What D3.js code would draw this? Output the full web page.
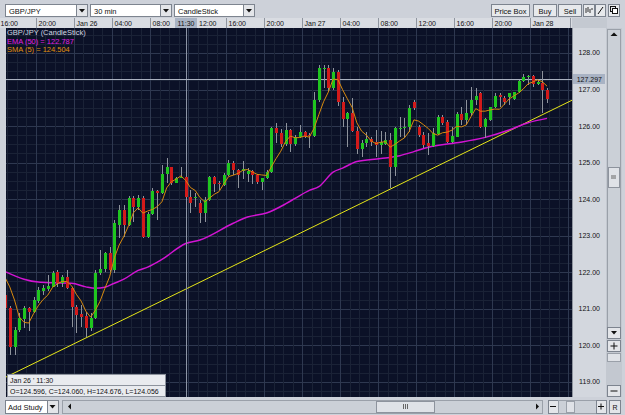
<!DOCTYPE html>
<meta charset="utf-8">
<style>
    body { margin: 0; background: #cdd1d9; }
    svg text { font-family: "Liberation Sans", Arial, sans-serif; }
</style>
<svg width="625" height="415"></svg>
<script src="https://d3js.org/d3.v7.min.js"></script>
<script>

    // GBP/JPY 30 min candles, first candle = Jan 25 16:30
    var opens = [121.38, 121.01, 119.96, 120.42, 120.71, 121.01, 120.92, 121.22, 121.49, 121.53,
        121.60, 122.01, 121.71, 121.86, 121.56, 121.04, 120.85, 120.80, 120.47, 120.74,
        121.97, 122.08, 122.52, 122.06, 123.29, 123.70, 123.29, 124.02, 123.78, 124.02,
        122.97, 123.59, 124.23, 124.16, 124.68, 124.87, 124.45, 124.57, 124.596, 124.05,
        124.03, 123.90, 123.61, 123.99, 124.60, 124.43, 124.39, 124.66, 125.00, 124.80,
        124.78, 124.69, 124.76, 124.66, 124.48, 124.57, 124.75, 125.94, 125.80, 125.50,
        125.89, 125.50, 125.71, 125.83, 125.75, 125.74, 126.71, 127.56, 127.60, 127.03,
        127.49, 126.67, 126.19, 126.35, 125.86, 125.37, 125.53, 125.65, 125.56, 125.48,
        125.50, 125.62, 124.89, 125.94, 125.96, 125.97, 126.67, 125.98, 125.76, 125.53,
        125.46, 125.78, 126.26, 126.12, 125.57, 125.71, 126.32, 126.17, 126.35, 126.71,
        126.90, 125.98, 126.17, 126.51, 126.84, 126.78, 126.79, 126.73, 126.92, 127.24,
        127.33, 127.37, 127.15, 127.19, 126.99];
    var highs = [121.43, 121.08, 120.51, 120.88, 121.08, 121.06, 121.31, 121.59, 121.65, 121.92,
        122.04, 122.06, 121.92, 122.06, 121.60, 121.10, 121.10, 120.92, 120.88, 122.06,
        122.61, 122.56, 122.70, 123.43, 123.84, 123.84, 124.09, 124.09, 124.11, 124.09,
        123.65, 124.30, 124.25, 124.93, 125.12, 124.89, 124.61, 124.89, 124.676, 124.25,
        124.16, 123.98, 124.05, 124.63, 124.63, 124.51, 124.71, 125.07, 125.05, 124.82,
        125.05, 124.84, 124.80, 124.69, 124.59, 124.80, 125.98, 126.07, 125.92, 126.07,
        125.92, 125.76, 126.03, 125.86, 125.82, 126.94, 127.67, 127.67, 127.67, 127.58,
        127.53, 126.80, 126.39, 126.78, 125.98, 125.62, 125.83, 125.70, 125.89, 125.86,
        125.83, 125.80, 125.98, 126.26, 126.21, 126.58, 126.71, 126.03, 125.85, 125.80,
        125.95, 126.30, 126.30, 126.17, 125.98, 126.39, 126.53, 126.71, 127.08, 127.04,
        126.94, 126.21, 126.53, 126.90, 126.90, 126.82, 126.91, 126.94, 127.26, 127.42,
        127.40, 127.40, 127.26, 127.51, 127.03];
    var lows = [120.97, 119.74, 119.74, 120.37, 120.47, 120.39, 120.88, 121.15, 121.38, 121.49,
        121.59, 121.60, 121.59, 121.53, 120.51, 120.33, 120.51, 120.24, 120.40, 120.71,
        121.92, 122.02, 122.02, 121.97, 122.93, 122.97, 123.27, 123.37, 123.70, 122.94,
        122.93, 123.57, 123.43, 124.14, 124.43, 124.39, 124.43, 124.57, 124.056, 123.61,
        123.78, 123.34, 123.38, 123.96, 124.20, 124.25, 124.36, 124.63, 124.66, 124.30,
        124.54, 124.48, 124.41, 124.41, 124.25, 124.54, 124.72, 125.53, 125.43, 125.46,
        125.28, 125.46, 125.68, 125.68, 125.41, 125.71, 126.67, 127.03, 126.94, 126.99,
        126.56, 125.98, 125.44, 125.83, 125.23, 125.16, 125.44, 125.46, 125.16, 125.23,
        125.48, 124.31, 124.64, 125.71, 125.68, 125.85, 126.44, 125.70, 125.39, 125.21,
        125.43, 125.76, 126.03, 125.54, 125.54, 125.69, 126.03, 126.03, 126.27, 126.58,
        125.94, 125.67, 126.14, 126.49, 126.53, 126.58, 126.58, 126.71, 126.90, 127.21,
        127.12, 127.08, 127.12, 126.35, 126.62];
    var closes = [121.02, 119.96, 120.42, 120.74, 121.01, 120.92, 121.24, 121.51, 121.58, 121.62,
        121.99, 121.70, 121.86, 121.56, 121.04, 120.83, 120.78, 120.47, 120.74, 121.97,
        122.09, 122.52, 122.06, 123.34, 123.70, 123.29, 124.02, 123.78, 124.02, 122.97,
        123.59, 124.23, 124.16, 124.69, 124.87, 124.45, 124.57, 124.61, 124.060, 123.90,
        124.05, 123.61, 123.99, 124.60, 124.41, 124.41, 124.66, 125.00, 124.80, 124.66,
        124.82, 124.78, 124.66, 124.48, 124.57, 124.75, 125.94, 125.80, 125.50, 125.89,
        125.50, 125.71, 125.83, 125.71, 125.73, 126.71, 127.58, 127.60, 127.03, 127.49,
        126.67, 126.19, 126.35, 125.86, 125.37, 125.53, 125.65, 125.56, 125.48, 125.56,
        125.62, 124.89, 125.94, 125.96, 125.97, 126.49, 126.49, 125.76, 125.48, 125.46,
        125.80, 126.26, 126.08, 125.57, 125.73, 126.33, 126.17, 126.35, 126.71, 126.82,
        125.98, 126.18, 126.51, 126.83, 126.79, 126.67, 126.90, 126.92, 127.24, 127.35,
        127.37, 127.15, 127.21, 126.99, 126.73];

    // EMA(50): candle index -> value
    var emaIdx = [0, 4, 7, 10, 14, 17, 19, 21, 23, 25, 28, 30, 33, 38, 41, 48, 51, 55, 59, 61,
        64, 66, 69, 71, 74, 79, 83, 86, 89, 95, 101, 106, 110, 114];
    var emaVal = [122.02, 121.81, 121.73, 121.71, 121.70, 121.60, 121.56, 121.59, 121.70, 121.81,
        122.05, 122.14, 122.35, 122.787, 122.88, 123.34, 123.51, 123.62, 123.87, 124.02,
        124.24, 124.34, 124.74, 124.85, 125.03, 125.11, 125.19, 125.30, 125.42, 125.54,
        125.69, 125.89, 126.09, 126.21];
    // SMA(5) values of the first 4 candles (need closes from before the window)
    var smaLead = [121.86, 121.60, 121.24, 120.78];

    // yellow trend line, two anchor points (candle index, price)
    var trendIdx = [0, 119.3];
    var trendVal = [119.12, 126.71];

    var timeLabels = ["16:00", "20:00", "Jan 26", "04:00", "08:00", "12:00", "16:00", "20:00",
        "Jan 27", "04:00", "08:00", "12:00", "16:00", "20:00", "Jan 28"];
    var timeLabelIdx = [-1, 7, 15, 23, 31, 39, 47, 55, 63, 71, 79, 87, 95, 103, 111];
    var priceTicks = [119, 120, 121, 122, 123, 124, 125, 126, 127, 128];

    var crossIdx = 38, crossPrice = 127.297;

    var svg = d3.select("svg"),
        width = +svg.attr("width"),
        height = +svg.attr("height");

    var plot = {left: 6, right: 572, top: 28, bottom: 397};

    var x = d3.scaleLinear().domain([0, 114]).range([5, 5 + 114 * 4.755]);
    var y = d3.scaleLinear().domain([127, 120]).range([89.5, 89.5 + 7 * 36.55]);

    var candles = opens.map(function(o, i) {
        return {i: i, o: o, h: highs[i], l: lows[i], c: closes[i]};
    });

    // ---------- window chrome ----------
    svg.append("rect").attr("width", width).attr("height", height).attr("fill", "#cdd1d9");

    function box(g, x0, y0, w, h, fill, stroke) {
        return g.append("rect").attr("x", x0 + 0.5).attr("y", y0 + 0.5)
            .attr("width", w).attr("height", h)
            .attr("fill", fill).attr("stroke", stroke || "#7d848f");
    }

    function arrowDown(g, cx, cy) {
        g.append("path").attr("d", "M" + (cx - 3) + "," + (cy - 1.5) + "h6l-3,3.5z").attr("fill", "#111");
    }

    var bar = svg.append("g");
    [[5, 82, "GBP/JPY"], [90, 81, "30 min"], [174, 80, "CandleStick"]].forEach(function(d) {
        box(bar, d[0], 4, d[1], 12, "#fff");
        box(bar, d[0] + d[1] - 11, 4, 11, 12, "#e3e5e9");
        arrowDown(bar, d[0] + d[1] - 5, 10.5);
        bar.append("text").attr("x", d[0] + 4).attr("y", 13.5).attr("font-size", 7.5)
            .attr("fill", "#111").text(d[2]);
    });
    [[491, 38, "Price Box"], [533, 23, "Buy"], [558, 23, "Sell"]].forEach(function(d) {
        box(bar, d[0], 4, d[1], 12, "#e7e9ec");
        bar.append("text").attr("x", d[0] + d[1] / 2 + 0.5).attr("y", 13.5).attr("font-size", 7.5)
            .attr("text-anchor", "middle").attr("fill", "#111").text(d[2]);
    });
    box(bar, 583, 4, 11, 12, "#e7e9ec");
    bar.append("path").attr("d", "M586,8v5M588,7v5M590,9v4M592,8v2").attr("stroke", "#333").attr("fill", "none");
    box(bar, 595, 4, 10, 12, "#e7e9ec");
    bar.append("path").attr("d", "M598,14L603,7").attr("stroke", "#111");
    box(bar, 608, 4, 11, 12, "#e7e9ec");
    bar.append("rect").attr("x", 610.5).attr("y", 6.5).attr("width", 5).attr("height", 5).attr("fill", "none").attr("stroke", "#111");
    bar.append("rect").attr("x", 612.5).attr("y", 8.5).attr("width", 5).attr("height", 5).attr("fill", "#fff").attr("stroke", "#111");

    // time axis strip
    var tax = svg.append("g");
    var cx0 = Math.round(x(crossIdx));
    tax.append("rect").attr("x", 0).attr("y", 18).attr("width", 572).attr("height", 10).attr("fill", "#d9dce2");
    tax.append("rect").attr("x", 572).attr("y", 18).attr("width", 35).attr("height", 10).attr("fill", "#c4c9d1");
    timeLabels.forEach(function(t, k) {
        var sx = Math.round(x(timeLabelIdx[k] - 0.5));
        tax.append("line").attr("x1", sx + 0.5).attr("x2", sx + 0.5).attr("y1", 18).attr("y2", 28)
            .attr("stroke", "#8f959f");
        // the label under the crosshair time box is pushed past it
        var tx = timeLabelIdx[k] === crossIdx + 1 ? cx0 + 13 : sx + 2.5;
        tax.append("text").attr("x", tx).attr("y", 26).attr("font-size", 7)
            .attr("fill", "#111").text(t);
    });
    tax.append("line").attr("x1", 570.5).attr("x2", 570.5).attr("y1", 18).attr("y2", 28).attr("stroke", "#8f959f");
    // highlighted crosshair time
    tax.append("rect").attr("x", cx0 - 11).attr("y", 18).attr("width", 22).attr("height", 10).attr("fill", "#a9b3c4");
    tax.append("text").attr("x", cx0).attr("y", 26).attr("font-size", 7).attr("text-anchor", "middle")
        .attr("fill", "#111").text("11:30");

    // ---------- plot area ----------
    svg.append("clipPath").attr("id", "clip").append("rect")
        .attr("x", plot.left).attr("y", plot.top)
        .attr("width", plot.right - plot.left).attr("height", plot.bottom - plot.top);

    svg.append("rect").attr("x", plot.left).attr("y", plot.top)
        .attr("width", plot.right - plot.left).attr("height", plot.bottom - plot.top)
        .attr("fill", "#0b1127");

    var g = svg.append("g").attr("clip-path", "url(#clip)");

    // minor / major grid
    var hMinor = d3.range(118.5, 129, 0.25);
    g.selectAll(".hmin").data(hMinor).enter().append("line")
        .attr("x1", plot.left).attr("x2", plot.right)
        .attr("y1", function(d) { return Math.round(y(d)) + 0.5; })
        .attr("y2", function(d) { return Math.round(y(d)) + 0.5; })
        .attr("stroke", function(d) { return d % 1 === 0 ? "#2e3850" : "#1a2236"; });
    var vMinor = d3.range(-1, 121, 2);
    g.selectAll(".vmin").data(vMinor).enter().append("line")
        .attr("y1", plot.top).attr("y2", plot.bottom)
        .attr("x1", function(d) { return Math.round(x(d - 0.5)) + 0.5; })
        .attr("x2", function(d) { return Math.round(x(d - 0.5)) + 0.5; })
        .attr("stroke", function(d) { return (d + 1) % 8 === 0 ? "#2e3850" : "#1a2236"; });

    // trend line
    g.append("line")
        .attr("x1", x(trendIdx[0])).attr("y1", y(trendVal[0]))
        .attr("x2", x(trendIdx[1])).attr("y2", y(trendVal[1]))
        .attr("stroke", "#e6e619").attr("stroke-width", 1);

    // EMA(50)
    var ema = emaIdx.map(function(d, k) { return [d, emaVal[k]]; });
    g.append("path").datum(ema)
        .attr("fill", "none").attr("stroke", "#d214d2").attr("stroke-width", 1.5)
        .attr("d", d3.line().curve(d3.curveMonotoneX)
            .x(function(d) { return x(d[0]); }).y(function(d) { return y(d[1]); }));

    // crosshair
    g.append("line").attr("x1", cx0 + 0.5).attr("x2", cx0 + 0.5).attr("y1", plot.top).attr("y2", plot.bottom)
        .attr("stroke", "#8d95a6");
    var cy0 = Math.round(y(crossPrice));
    g.append("line").attr("x1", plot.left).attr("x2", plot.right).attr("y1", cy0 + 0.5).attr("y2", cy0 + 0.5)
        .attr("stroke", "#aab1bf");

    // candles
    var cg = g.append("g").selectAll("g").data(candles).enter().append("g");
    cg.append("line")
        .attr("x1", function(d) { return Math.round(x(d.i)) + 0.5; })
        .attr("x2", function(d) { return Math.round(x(d.i)) + 0.5; })
        .attr("y1", function(d) { return Math.round(y(d.h)); })
        .attr("y2", function(d) { return Math.round(y(d.l)); })
        .attr("stroke", "#8e939c");
    cg.append("rect")
        .attr("x", function(d) { return Math.round(x(d.i)) - 1; })
        .attr("width", 3)
        .attr("y", function(d) { return Math.round(y(Math.max(d.o, d.c))); })
        .attr("height", function(d) { return Math.max(1, Math.round(y(Math.min(d.o, d.c))) - Math.round(y(Math.max(d.o, d.c)))); })
        .attr("fill", function(d) { return d.c >= d.o ? "#1fc61f" : "#d31a1a"; });

    // SMA(5)
    var sma = closes.map(function(c, i) {
        if (i < 4) return [i, smaLead[i]];
        return [i, d3.mean(closes.slice(i - 4, i + 1))];
    });
    g.append("path").datum(sma)
        .attr("fill", "none").attr("stroke", "#d88a0e").attr("stroke-width", 1)
        .attr("d", d3.line().x(function(d) { return x(d[0]); }).y(function(d) { return y(d[1]); }));

    // legend
    var lg = svg.append("g").attr("font-size", 7.5);
    lg.append("text").attr("x", 7).attr("y", 35).attr("fill", "#d5d9e3").text("GBP/JPY (CandleStick)");
    lg.append("text").attr("x", 7).attr("y", 43.5).attr("fill", "#e020e0").text("EMA (50) = 122.787");
    lg.append("text").attr("x", 7).attr("y", 52).attr("fill", "#e0900e").text("SMA (5) = 124.504");

    // OHLC info box
    var c38 = candles[crossIdx];
    var ib = svg.append("g");
    box(ib, 7, 374, 158, 11, "#e9ebef", "#8d939d");
    box(ib, 7, 385, 158, 11, "#e9ebef", "#8d939d");
    ib.append("text").attr("x", 10).attr("y", 382.5).attr("font-size", 7).attr("fill", "#111").text("Jan 26 ' 11:30");
    ib.append("text").attr("x", 10).attr("y", 393.5).attr("font-size", 7).attr("fill", "#111")
        .text("O=" + c38.o.toFixed(3) + ", C=" + c38.c.toFixed(3) + ", H=" + c38.h.toFixed(3) + ", L=" + c38.l.toFixed(3));

    // ---------- price axis ----------
    var pax = svg.append("g");
    pax.append("rect").attr("x", 572).attr("y", plot.top).attr("width", 34).attr("height", plot.bottom - plot.top)
        .attr("fill", "#d3d7de");
    pax.append("line").attr("x1", 572.5).attr("x2", 572.5).attr("y1", plot.top).attr("y2", plot.bottom).attr("stroke", "#8f959f");
    pax.selectAll("text").data(priceTicks).enter().append("text")
        .attr("x", 600).attr("y", function(d) { return y(d) + 2.5; })
        .attr("text-anchor", "end").attr("font-size", 7).attr("fill", "#111")
        .text(function(d) { return d.toFixed(2); });
    pax.append("rect").attr("x", 573).attr("y", cy0 - 5).attr("width", 32).attr("height", 10).attr("fill", "#a9b3c4");
    pax.append("text").attr("x", 602).attr("y", cy0 + 2.5).attr("text-anchor", "end").attr("font-size", 7)
        .attr("fill", "#111").text(crossPrice.toFixed(3));

    // right scroll column
    var rs = svg.append("g");
    rs.append("rect").attr("x", 606).attr("y", plot.top).attr("width", 16).attr("height", plot.bottom - plot.top).attr("fill", "#c3c8d0");
    box(rs, 607, 29, 13, 300, "#cbd0d7", "#9aa0a9");
    rs.append("path").attr("d", "M610.5,36h7l-3.5,-3.5z").attr("fill", "#111");
    box(rs, 608, 167, 11, 20, "#dfe2e7", "#8d939d");
    rs.append("path").attr("d", "M611,176h5M611,178h5").attr("stroke", "#666");
    box(rs, 607, 327, 13, 11, "#e3e5e9");
    arrowDown(rs, 614, 332.5);
    box(rs, 607, 340, 13, 11, "#e3e5e9");
    rs.append("path").attr("d", "M610.5,346h7M614,342.5v7").attr("stroke", "#111");
    box(rs, 607, 353, 13, 8, "#dfe2e7", "#9aa0a9");
    box(rs, 607, 385, 13, 11, "#e3e5e9");
    rs.append("path").attr("d", "M610.5,391h7").attr("stroke", "#111");

    // ---------- bottom bar ----------
    var bb = svg.append("g");
    box(bb, 5, 400, 42, 13, "#fff");
    bb.append("text").attr("x", 8).attr("y", 409.5).attr("font-size", 7.5).attr("fill", "#111").text("Add Study");
    box(bb, 47, 400, 11, 13, "#e3e5e9");
    arrowDown(bb, 52.5, 406.5);
    box(bb, 62, 400, 480, 13, "#cbd0d7", "#9aa0a9");
    bb.append("path").attr("d", "M68,406.5l3,-3v6z").attr("fill", "#111");
    bb.append("path").attr("d", "M539,406.5l-3,-3v6z").attr("fill", "#111");
    box(bb, 376, 401, 58, 11, "#dfe2e7", "#8d939d");
    bb.append("path").attr("d", "M403.5,404v5M405.5,404v5M407.5,404v5").attr("stroke", "#666");
    box(bb, 548, 400, 10, 13, "#e3e5e9");
    bb.append("path").attr("d", "M550,406.5h6").attr("stroke", "#111");
    box(bb, 558, 400, 38, 13, "#cbd0d7", "#9aa0a9");
    box(bb, 566, 401, 8, 11, "#dfe2e7", "#9aa0a9");
    box(bb, 596, 400, 10, 13, "#e3e5e9");
    bb.append("path").attr("d", "M598,406.5h6M601,403.5v6").attr("stroke", "#111");
    box(bb, 609, 400, 11, 13, "#e3e5e9");
    bb.append("text").attr("x", 615).attr("y", 409.5).attr("font-size", 7).attr("text-anchor", "middle")
        .attr("fill", "#111").text("R");

</script>
